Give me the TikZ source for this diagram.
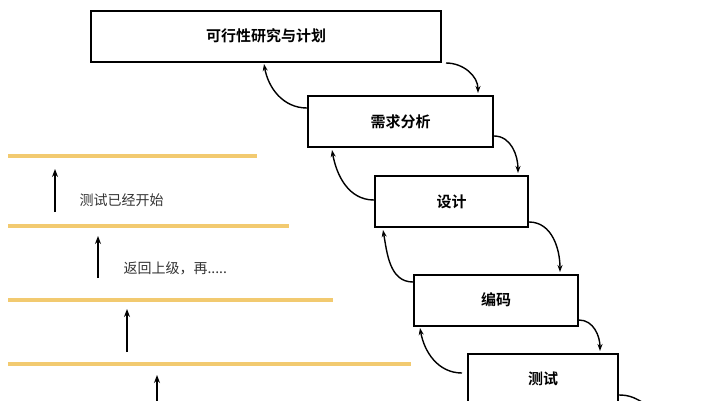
\documentclass[tikz,border=0pt]{standalone}
\usepackage{fontspec}
\newfontfamily\cjk{Noto Sans CJK SC}
\newfontfamily\cjkb{Noto Sans CJK SC Bold}
\usetikzlibrary{arrows.meta}
\definecolor{stripe}{RGB}{242,202,112}
\begin{document}
\begin{tikzpicture}[x=1pt,y=-1pt,
  stage/.style={draw,line width=2pt,minimum height=51pt,inner sep=0pt,font=\cjkb\fontsize{15}{18}\selectfont},
  flow/.style={line width=1.4pt,-{Stealth[length=7pt,width=5pt]}},
  band/.style={stripe,line width=4pt},
  up/.style={line width=1.6pt,-{Stealth[length=8pt,width=6pt]}},
  note/.style={font=\cjk\fontsize{14}{16}\selectfont,anchor=west,text=black!80}]
\useasboundingbox (0,0) rectangle (703,400);
\node[stage,minimum width=350pt] (a) at (266,36) {可行性研究与计划};
\node[stage,minimum width=185pt] (b) at (400.5,121.5) {需求分析};
\node[stage,minimum width=153pt] (c) at (451.5,201.5) {设计};
\node[stage,minimum width=164pt] (d) at (496,300) {编码};
\node[stage,minimum width=150pt] (e) at (543,379) {测试};
\coordinate (ee) at (642,402);
% down arrows
\draw[flow] (a.south east)++(4,8) coordinate(a1) (446,63) to[out=0,in=90] (478,93);
\draw[flow] (494,136) to[out=0,in=90] (518,173);
\draw[flow] (529,222) to[out=0,in=90] (560,272);
\draw[flow] (579,320) to[out=0,in=90] (600,351);
\draw[line width=1.4pt] (619,395) to[out=0,in=150] (ee);
% up arrows
\draw[flow] (b.west|-0,108) to[out=180,in=-80] (264,64);
\draw[flow] (c.west|-0,200) to[out=180,in=-80] (332,150);
\draw[flow] (d.west|-0,282) to[out=180,in=-80] (383,230);
\draw[flow] (462,373) to[out=180,in=-80] (420,328);
% bands
\draw[band] (8,156) -- (257,156);
\draw[band] (8,226) -- (289,226);
\draw[band] (8,300) -- (333,300);
\draw[band] (8,364) -- (411,364);
\draw[up] (55,212) -- (55,169);
\draw[up] (98,278) -- (98,236);
\draw[up] (127,352) -- (127,309);
\draw[up] (157,402) -- (157,375);
\node[note] (t1) at (76,200) {测试已经开始};
\node[note] (t2) at (120,268) {返回上级，再.....};
\end{tikzpicture}
\end{document}
